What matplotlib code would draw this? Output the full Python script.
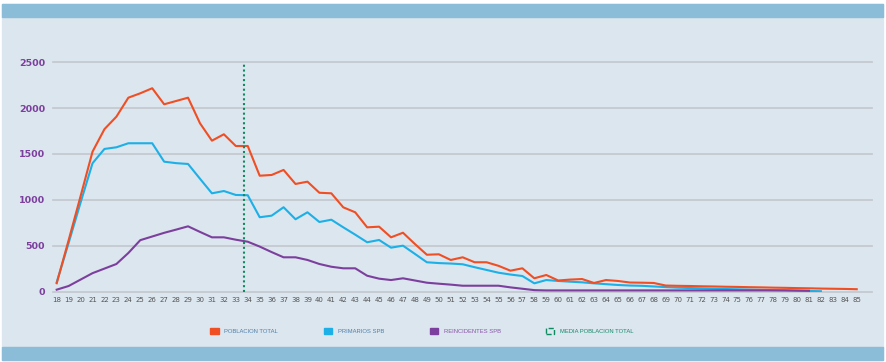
import matplotlib
matplotlib.use("Agg")
import matplotlib.pyplot as plt
from matplotlib.patches import Patch, Rectangle

# edades 18..85
edades = list(range(18, 86))

poblacion_total = [90, 560, 1040, 1525, 1771, 1907, 2114, 2162, 2217, 2042,
                   2078, 2114, 1835, 1645, 1715, 1587, 1587, 1263, 1271, 1326,
                   1173, 1198, 1077, 1071, 918, 864, 700, 707, 591, 641,
                   518, 401, 406, 344, 373, 319, 319, 280, 227, 253,
                   144, 180, 120, 130, 136, 93, 125, 115, 98, 96,
                   93, 65, 62, 60, 57, 55, 52, 50, 47, 45,
                   42, 40, 37, 35, 32, 30, 28, 25]

primarios_spb = [100, 530, 970, 1399, 1555, 1573, 1617, 1617, 1617, 1416,
                 1400, 1391, 1230, 1071, 1096, 1053, 1050, 810, 827, 919,
                 788, 864, 758, 783, 700, 620, 537, 562, 478, 500,
                 410, 319, 310, 305, 297, 265, 235, 205, 185, 169,
                 89, 125, 115, 107, 100, 89, 80, 71, 65, 62,
                 55, 48, 42, 38, 34, 30, 27, 24, 21, 18,
                 15, 12, 9, 6, 3]

reincidentes_spb = [20, 60, 130, 200, 250, 300, 420, 560, 600, 640,
                    675, 711, 650, 591, 591, 565, 543, 490, 430, 373,
                    373, 344, 300, 270, 253, 253, 172, 140, 125, 144,
                    120, 96, 85, 75, 63, 63, 63, 63, 45, 30,
                    15, 12, 12, 12, 12, 12, 12, 12, 12, 12,
                    12, 12, 12, 12, 12, 12, 12, 12, 12, 12,
                    12, 12, 10, 8]

media_edad = 33.65

c_total = "#f04e23"
c_prim = "#1cb0e6"
c_rein = "#7c3f9d"
c_media = "#0d8a60"

W, H = 887, 362
fig = plt.figure(figsize=(W / 100, H / 100), dpi=100)
fig.patch.set_facecolor("white")

# panel de fondo y bandas
for (y0, h, col) in [(4, 356, "#dce6ef"), (4, 13, "#8bbdd8"), (346.5, 13.5, "#8bbdd8")]:
    fig.add_artist(Rectangle((2 / W, 1 - (y0 + h) / H), 881 / W, h / H,
                             transform=fig.transFigure, color=col, zorder=-10))

ax = fig.add_axes([53 / W, 1 - 291.5 / H, 819 / W, 229.2 / H])
ax.set_facecolor("none")

ax.plot(edades[:len(poblacion_total)], poblacion_total, color=c_total, lw=1.5, zorder=4)
ax.plot(edades[:len(primarios_spb)], primarios_spb, color=c_prim, lw=1.5, zorder=3)
ax.plot(edades[:len(reincidentes_spb)], reincidentes_spb, color=c_rein, lw=1.5, zorder=3)
ax.axvline(media_edad, color=c_media, lw=1.5, ls=(0, (1, 1.3)), zorder=5)

ax.set_xlim(17.69, 86.28)
ax.set_ylim(0, 2500)
ax.set_yticks(range(0, 2501, 500))
ax.set_xticks(edades)
ax.set_xticklabels([str(e) for e in edades])
ax.yaxis.grid(True, color="#c5cad0", lw=1.3)
for gl in ax.get_ygridlines():
    gl.set_clip_on(False)
ax.set_axisbelow(True)
for s in ax.spines.values():
    s.set_visible(False)
ax.tick_params(axis="both", length=0)
ax.tick_params(axis="y", pad=5.8, labelsize=6.8, labelcolor="#7c3f9d")
ax.tick_params(axis="x", pad=4, labelsize=5.0, labelcolor="#555555")
for t in ax.get_yticklabels():
    t.set_fontweight("bold")

handles = [
    Patch(facecolor=c_total, edgecolor=c_total),
    Patch(facecolor=c_prim, edgecolor=c_prim),
    Patch(facecolor=c_rein, edgecolor=c_rein),
    Patch(facecolor="none", edgecolor=c_media, ls="--", lw=1.0),
]
labels = ["POBLACION TOTAL", "PRIMARIOS SPB", "REINCIDENTES SPB", "MEDIA POBLACION TOTAL"]
leg = fig.legend(handles, labels, loc="center", bbox_to_anchor=(422 / W, 1 - 331 / H),
                 ncol=4, frameon=False, prop={"family": "Liberation Sans", "size": 4.2},
                 handlelength=1.4, handleheight=1.4,
                 handletextpad=1.0, columnspacing=7.8,
                 labelcolor=["#4d7fa8", "#4d7fa8", "#8a55a8", "#138a68"])

fig.savefig("out.png", dpi=100, facecolor=fig.get_facecolor())
